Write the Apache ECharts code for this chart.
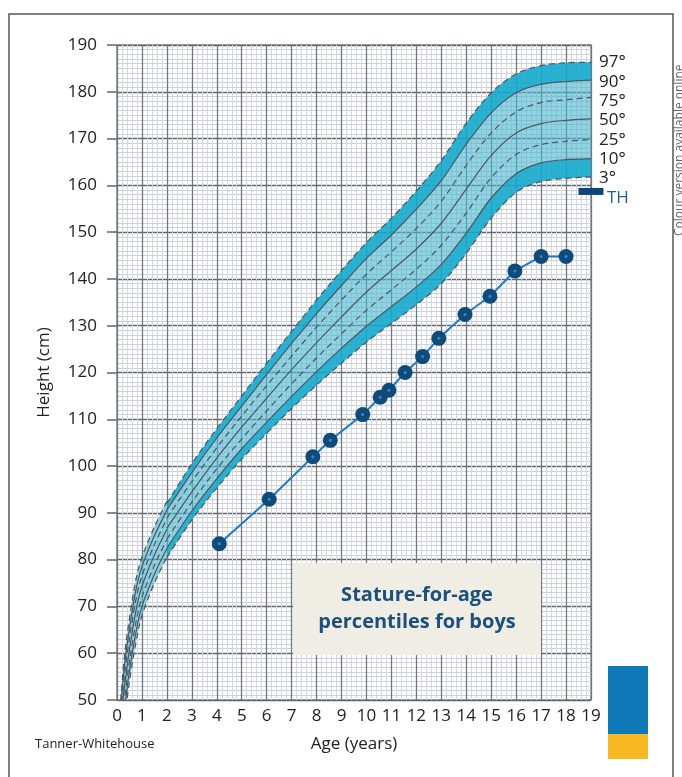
<!DOCTYPE html>
<html lang="en">
<head>
<meta charset="UTF-8">
<title>Stature-for-age percentiles for boys</title>
<script src="https://cdn.jsdelivr.net/npm/echarts@6/dist/echarts.min.js"></script>
<style>
    html, body { margin: 0; padding: 0; background: #fff; }
    #chart { width: 682px; height: 777px; }
</style>
</head>
<body>
<div id="chart"></div>
<script>
    // infant curves (0-2 years)
    var infantAges = [0.15, 0.3, 0.5, 0.75, 1, 1.5, 2];
    var i3  = [42.0, 46.0, 54.0, 62.0, 68.0, 75.0, 80.5];
    var i10 = [43.3, 48.2, 56.2, 64.2, 70.0, 76.9, 82.4];
    var i25 = [44.6, 50.3, 58.3, 66.3, 72.0, 78.8, 84.3];
    var i50 = [46.0, 52.8, 60.8, 68.8, 74.3, 81.0, 86.5];
    var i75 = [47.4, 55.2, 63.2, 71.2, 76.5, 83.2, 88.7];
    var i90 = [48.7, 57.3, 65.3, 73.3, 78.5, 85.1, 90.6];
    var i97 = [50.0, 59.5, 67.5, 75.5, 80.5, 87.0, 92.5];

    // stature curves (2-19 years)
    var childAges = [2, 3, 4, 5, 6, 7, 8, 9, 10, 11, 12, 13, 14, 15, 16, 17, 18, 19];
    var c3  = [80.5, 88.5, 95.3, 101.5, 107.0, 112.3, 117.3, 122.0, 126.5, 130.5, 134.5, 139.0, 145.5, 153.0, 158.5, 160.8, 161.5, 161.8];
    var c10 = [82.5, 90.4, 97.3, 103.7, 109.4, 114.9, 120.2, 125.2, 129.9, 134.1, 138.3, 143.1, 149.8, 157.3, 162.5, 164.8, 165.5, 165.7];
    var c25 = [84.4, 92.3, 99.4, 105.8, 111.8, 117.6, 123.1, 128.3, 133.3, 137.7, 142.1, 147.2, 154.1, 161.6, 166.6, 168.7, 169.4, 169.8];
    var c50 = [86.7, 94.5, 101.7, 108.3, 114.5, 120.6, 126.4, 131.9, 137.2, 141.8, 146.4, 151.9, 159.2, 166.4, 171.2, 173.2, 173.9, 174.2];
    var c75 = [88.9, 96.7, 103.9, 110.7, 117.2, 123.5, 129.7, 135.5, 141.0, 145.8, 150.8, 156.6, 164.3, 171.2, 175.7, 177.7, 178.3, 178.8];
    var c90 = [90.6, 98.6, 106.0, 112.8, 119.6, 126.2, 132.6, 138.6, 144.4, 149.4, 154.9, 161.0, 168.8, 175.5, 179.8, 181.6, 182.2, 182.5];
    var c97 = [92.0, 100.5, 108.0, 115.0, 122.0, 128.8, 135.5, 141.8, 147.8, 153.0, 158.8, 165.3, 173.3, 179.8, 183.8, 185.6, 186.2, 186.3];

    // measured boy
    var boyAges    = [4.1, 6.1, 7.85, 8.55, 9.85, 10.55, 10.9, 11.55, 12.25, 12.9, 13.95, 14.95, 15.95, 17, 18];
    var boyHeights = [83.4, 92.9, 102.0, 105.5, 111.0, 114.7, 116.2, 120.0, 123.4, 127.3, 132.4, 136.3, 141.7, 144.8, 144.8];

    // target height bar
    var thAges = [18.5, 19.5];
    var thHeight = 158.7;

    var centileNames = ['97°', '90°', '75°', '50°', '25°', '10°', '3°'];
    var centileLabelY = [62, 82, 101, 120, 140, 159, 178];

    var FONT = '"Open Sans", "Noto Sans", sans-serif';
    var STRONG = 'rgba(20,168,204,0.9)';
    var LIGHT = 'rgba(72,182,206,0.6)';
    var CURVE = '#4d5660';

    function pairs(xs, ys) {
        return xs.map(function (x, i) { return [x, ys[i]]; });
    }

    // catmull-rom through pixel points -> svg path
    function smoothPath(pts, first) {
        var d = (first ? 'M' : 'L') + pts[0][0] + ' ' + pts[0][1];
        for (var i = 0; i < pts.length - 1; i++) {
            var p0 = pts[i - 1] || pts[i], p1 = pts[i], p2 = pts[i + 1], p3 = pts[i + 2] || p2;
            d += ' C' + (p1[0] + (p2[0] - p0[0]) / 6) + ' ' + (p1[1] + (p2[1] - p0[1]) / 6) +
                 ' ' + (p2[0] - (p3[0] - p1[0]) / 6) + ' ' + (p2[1] - (p3[1] - p1[1]) / 6) +
                 ' ' + p2[0] + ' ' + p2[1];
        }
        return d;
    }

    function renderCentiles(params, api) {
        function px(xs, ys) {
            return xs.map(function (x, i) { return api.coord([x, ys[i]]); });
        }
        function band(xs, hi, lo, color) {
            var d = smoothPath(px(xs, hi), true) + ' ' + smoothPath(px(xs, lo).reverse(), false) + ' Z';
            return { type: 'path', shape: { pathData: d }, style: { fill: color, stroke: null } };
        }
        function line(xs, ys, dashed) {
            return { type: 'path', shape: { pathData: smoothPath(px(xs, ys), true) },
                style: { fill: null, stroke: CURVE, lineWidth: 1.2, lineDash: dashed ? [6, 4] : null } };
        }
        var kids = [
            band(infantAges, i97, i3, LIGHT),
            band(childAges, c10, c3, STRONG),
            band(childAges, c90, c10, LIGHT),
            band(childAges, c97, c90, STRONG)
        ];
        [[i97, 1], [i90, 0], [i75, 1], [i50, 0], [i25, 1], [i10, 0], [i3, 1]].forEach(function (c) {
            kids.push(line(infantAges, c[0], c[1]));
        });
        [[c97, 1], [c90, 0], [c75, 1], [c50, 0], [c25, 1], [c10, 0], [c3, 1]].forEach(function (c) {
            kids.push(line(childAges, c[0], c[1]));
        });
        var cs = params.coordSys;
        var a = api.coord([thAges[0], thHeight]), b = api.coord([thAges[1], thHeight]);
        return {
            type: 'group',
            children: [
                { type: 'group', children: kids,
                  clipPath: { type: 'rect', shape: { x: cs.x, y: cs.y, width: cs.width, height: cs.height } } },
                { type: 'rect', shape: { x: a[0], y: a[1] - 3.5, width: b[0] - a[0], height: 7 },
                  style: { fill: '#0d4777' } }
            ]
        };
    }

    var graphics = [
        { type: 'rect', z: 100, shape: { x: 9, y: 14, width: 664, height: 780 },
          style: { fill: 'none', stroke: '#555', lineWidth: 1.5 } },
        { type: 'rect', z: 100, shape: { x: 293, y: 563, width: 248, height: 92 },
          style: { fill: '#efede4' } },
        { type: 'text', z: 101, x: 417, y: 595,
          style: { text: 'Stature-for-age', font: 'bold 20px ' + FONT, fill: '#1b4f7e', textAlign: 'center', textVerticalAlign: 'middle' } },
        { type: 'text', z: 101, x: 417, y: 622,
          style: { text: 'percentiles for boys', font: 'bold 20px ' + FONT, fill: '#1b4f7e', textAlign: 'center', textVerticalAlign: 'middle' } },
        { type: 'rect', z: 100, shape: { x: 608, y: 666, width: 40, height: 68 }, style: { fill: '#0f78b7' } },
        { type: 'rect', z: 100, shape: { x: 608, y: 734, width: 40, height: 25 }, style: { fill: '#f7b923' } },
        { type: 'text', z: 100, x: 607, y: 198,
          style: { text: 'TH', font: '17px ' + FONT, fill: '#1f5f99', textVerticalAlign: 'middle' } },
        { type: 'text', z: 100, x: 35, y: 744,
          style: { text: 'Tanner-Whitehouse', font: '13px ' + FONT, fill: '#222', textVerticalAlign: 'middle' } },
        { type: 'text', z: 100, x: 680, y: 236, rotation: Math.PI / 2,
          style: { text: 'Colour version available online', font: '12px ' + FONT, fill: '#666', textVerticalAlign: 'middle' } }
    ];
    centileNames.forEach(function (n, i) {
        graphics.push({ type: 'text', z: 100, x: 599, y: centileLabelY[i],
            style: { text: n, font: '17px ' + FONT, fill: '#222', textVerticalAlign: 'middle' } });
    });

    var chart = echarts.init(document.getElementById('chart'));
    chart.setOption({
        animation: false,
        backgroundColor: '#fff',
        textStyle: { fontFamily: FONT },
        grid: { left: 117, right: 91, top: 45, bottom: 77, show: true, borderColor: '#888', borderWidth: 1.5 },
        xAxis: {
            type: 'value', min: 0, max: 19, interval: 1,
            name: 'Age (years)', nameLocation: 'middle', nameGap: 36,
            nameTextStyle: { fontSize: 17, color: '#222', fontFamily: FONT },
            axisLine: { show: false },
            axisTick: { show: false },
            axisLabel: { fontSize: 17, color: '#222', margin: 8, fontFamily: FONT },
            splitLine: { lineStyle: { color: '#727880', width: 1.3 } },
            minorTick: { show: false, splitNumber: 5 },
            minorSplitLine: { show: true, lineStyle: { color: '#d5d7de', width: 1 } }
        },
        yAxis: {
            type: 'value', min: 50, max: 190, interval: 10,
            name: 'Height (cm)', nameLocation: 'middle', nameGap: 64, nameRotate: 90,
            nameTextStyle: { fontSize: 17, color: '#222', fontFamily: FONT },
            axisLine: { show: false },
            axisTick: { show: true, inside: false, length: 10, lineStyle: { color: '#666', width: 1.5 } },
            axisLabel: { fontSize: 17, color: '#222', margin: 20, fontFamily: FONT },
            splitLine: { lineStyle: { color: '#5f6670', width: 1.4 } },
            minorTick: { show: false, splitNumber: 10 },
            minorSplitLine: { show: true, lineStyle: { color: '#cfd0de', width: 1 } }
        },
        graphic: graphics,
        series: [
            {
                type: 'custom', renderItem: renderCentiles, data: [[0, 50]], silent: true, z: 3
            },
            {
                type: 'line', data: pairs(boyAges, boyHeights), z: 5,
                symbol: 'circle', symbolSize: 15,
                lineStyle: { color: '#1f7cc2', width: 2 },
                itemStyle: { color: '#0d4b7c' }
            },
            {
                type: 'scatter', data: pairs(boyAges, boyHeights), z: 6, silent: true,
                symbolSize: 3, itemStyle: { color: '#5a8fbd' }
            }
        ]
    });
</script>
</body>
</html>
